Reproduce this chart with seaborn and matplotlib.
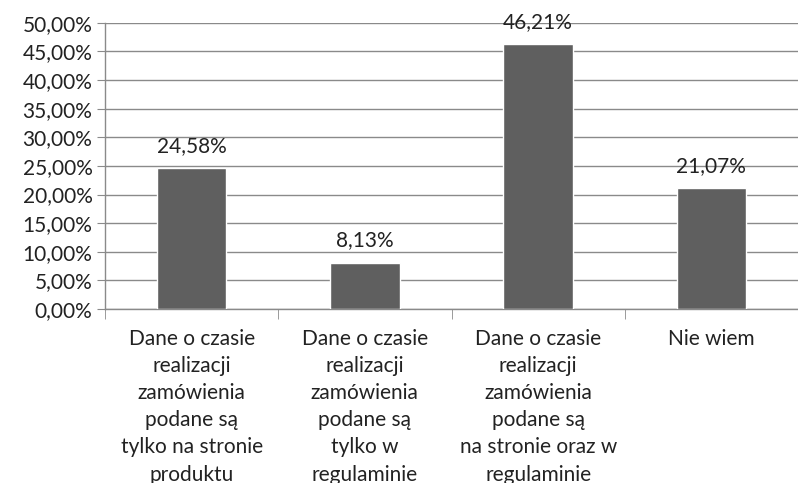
import matplotlib
matplotlib.use("Agg")
import matplotlib.pyplot as plt
import seaborn as sns
import pandas as pd
from matplotlib.ticker import FuncFormatter, MultipleLocator, FixedLocator

categories = [
    "Dane o czasie\nrealizacji\nzamówienia\npodane są\ntylko na stronie\nproduktu",
    "Dane o czasie\nrealizacji\nzamówienia\npodane są\ntylko w\nregulaminie",
    "Dane o czasie\nrealizacji\nzamówienia\npodane są\nna stronie oraz w\nregulaminie",
    "Nie wiem",
]
values = [24.58, 8.13, 46.21, 21.07]

df = pd.DataFrame({"kategoria": categories, "procent": values})

sns.set_style("white")
plt.rcParams["font.family"] = ["Lato", "DejaVu Sans"]

fig = plt.figure(figsize=(7.98, 4.83), dpi=100)
ax = fig.add_axes([0.1316, 0.360, 0.8684, 0.593])

sns.barplot(data=df, x="kategoria", y="procent", color="#5f5f5f",
            width=0.4, saturation=1, ax=ax, zorder=3)

ax.set_ylim(0, 50)
ax.set_xlim(-0.5, 3.5)
ax.yaxis.set_major_locator(MultipleLocator(5))
ax.yaxis.set_major_formatter(FuncFormatter(lambda v, p: f"{v:.2f}%".replace(".", ",")))
ax.grid(axis="y", color="#8a8a8a", linewidth=1, zorder=0)
ax.grid(axis="x", visible=False)

for s in ["top", "right"]:
    ax.spines[s].set_visible(False)
for s in ["left", "bottom"]:
    ax.spines[s].set_color("#8a8a8a")
    ax.spines[s].set_linewidth(1)

fs = 15
ax.tick_params(axis="y", left=True, length=6, color="#8a8a8a", labelsize=fs,
               labelcolor="#222222", pad=3)
ax.xaxis.set_minor_locator(FixedLocator([-0.5, 0.5, 1.5, 2.5, 3.5]))
ax.tick_params(axis="x", which="minor", bottom=True, length=7, color="#8a8a8a")
ax.tick_params(axis="x", which="major", bottom=False, length=0, pad=14,
               labelsize=fs, labelcolor="#222222")
for lab in ax.get_xticklabels():
    lab.set_verticalalignment("top")
    lab.set_linespacing(1.45)

ax.set_xlabel("")
ax.set_ylabel("")

for i, v in enumerate(values):
    ax.text(i, v + 2.2, f"{v:.2f}%".replace(".", ","), ha="center", va="bottom",
            fontsize=fs, color="#222222")

fig.savefig("out.png", dpi=100)
